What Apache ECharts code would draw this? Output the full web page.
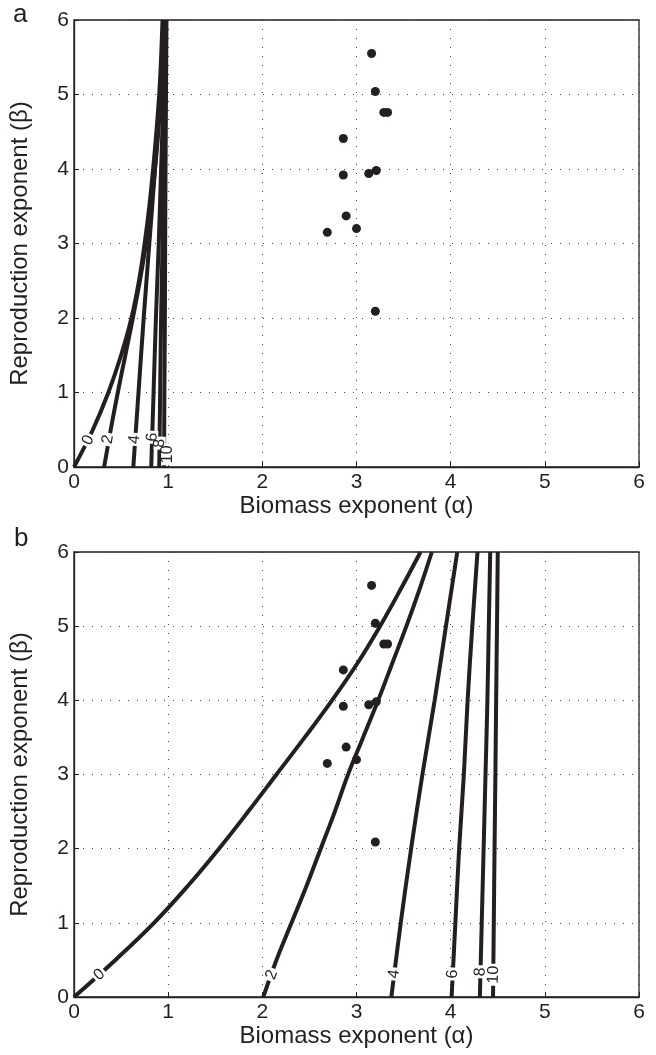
<!DOCTYPE html>
<html>
<head>
<meta charset="utf-8">
<script src="https://cdn.jsdelivr.net/npm/echarts@6/dist/echarts.min.js"></script>
<style>
  html, body { margin: 0; padding: 0; background: #fff; }
  #chart { width: 656px; height: 1055px; }
</style>
</head>
<body>
<div id="chart"></div>
<script>
// beta sampling of the contour lines
const betaFine = [0, 0.5, 1, 1.5, 2, 2.5, 3, 3.5, 4, 4.5, 5, 5.5, 6];
const betaCoarse = [0, 1, 2, 3, 4, 5, 6];

// panel a contours (alpha at each beta)
const a0 = [0, 0.2, 0.365, 0.5, 0.61, 0.69, 0.75, 0.8, 0.84, 0.875, 0.905, 0.925, 0.94];
const a2 = [0.32, 0.39, 0.465, 0.545, 0.625, 0.7, 0.765, 0.82, 0.86, 0.895, 0.92, 0.94, 0.955];
const a4 = [0.63, 0.685, 0.74, 0.8, 0.86, 0.915, 0.96];
const a6 = [0.82, 0.845, 0.87, 0.9, 0.925, 0.95, 0.968];
const a8 = [0.905, 0.915, 0.925, 0.94, 0.95, 0.962, 0.974];
const a10 = [0.956, 0.96, 0.965, 0.968, 0.972, 0.977, 0.982];

// panel b contours
const b0 = [0, 0.44, 0.85, 1.21, 1.54, 1.85, 2.15, 2.45, 2.74, 3.01, 3.25, 3.47, 3.68];
const b2 = [2.01, 2.15, 2.31, 2.47, 2.62, 2.77, 2.91, 3.07, 3.23, 3.38, 3.53, 3.67, 3.8];
const b4 = [3.37, 3.47, 3.58, 3.7, 3.83, 3.95, 4.07];
const b6 = [4.01, 4.05, 4.09, 4.14, 4.18, 4.23, 4.285];
const b8 = [4.31, 4.33, 4.35, 4.37, 4.39, 4.405, 4.42];
const b10 = [4.45, 4.458, 4.466, 4.475, 4.483, 4.492, 4.5];

// observed species
const dotAlpha = [3.16, 3.2, 3.29, 3.33, 2.86, 2.86, 3.13, 3.21, 2.89, 2.69, 3.0, 3.2];
const dotBeta = [5.55, 5.04, 4.76, 4.76, 4.41, 3.92, 3.94, 3.98, 3.37, 3.15, 3.2, 2.09];

// contour labels
const contourLevels = ['0', '2', '4', '6', '8', '10'];
const labAAlpha = [0.15, 0.36, 0.645, 0.83, 0.91, 0.99];
const labABeta = [0.36, 0.37, 0.37, 0.4, 0.32, 0.17];
const labBAlpha = [0.27, 2.1, 3.4, 4.02, 4.315, 4.455];
const labBBeta = [0.3, 0.3, 0.31, 0.31, 0.34, 0.3];
const labARot = [62, 80, 86, 88, 89, 90];
const labBRot = [42, 69, 83, 87, 88, 89];

const ink = '#231f20';
const font = 'Liberation Sans, Arial, Helvetica, sans-serif';

const pairs = (alphas, betas) => alphas.map((a, i) => [a, betas[i]]);

function axis(idx, name, isY) {
  return {
    gridIndex: idx,
    type: 'value',
    min: 0,
    max: 6,
    interval: 1,
    name,
    nameLocation: 'middle',
    nameGap: isY ? 42 : 16,
    nameTextStyle: { fontFamily: font, fontSize: 24, color: ink },
    axisLine: { show: true, onZero: false, lineStyle: { color: ink, width: 1.3 } },
    axisTick: { show: true, inside: true, length: 5, lineStyle: { color: ink } },
    axisLabel: { fontFamily: font, fontSize: 21, color: ink, margin: 5 },
    splitLine: { show: true, lineStyle: { color: '#444', width: 1, type: [1, 8] } }
  };
}

function contour(idx, alphas, betas) {
  return {
    type: 'line',
    xAxisIndex: idx,
    yAxisIndex: idx,
    data: pairs(alphas, betas),
    showSymbol: false,
    smooth: 0.4,
    lineStyle: { color: ink, width: 4 },
    silent: true,
    z: 3
  };
}

function labels(idx, alphas, betas, rots) {
  return {
    type: 'scatter',
    xAxisIndex: idx,
    yAxisIndex: idx,
    symbol: 'rect',
    z: 5,
    itemStyle: { color: '#fff', opacity: 1 },
    data: contourLevels.map((t, i) => ({
      value: [alphas[i], betas[i]],
      name: t,
      symbolSize: [t.length * 9 + 4, 12],
      symbolRotate: rots[i],
      label: { rotate: rots[i] }
    })),
    label: {
      show: true,
      position: 'inside',
      formatter: '{b}',
      fontFamily: font,
      fontSize: 16,
      color: ink
    }
  };
}

function dots(idx) {
  return {
    type: 'scatter',
    xAxisIndex: idx,
    yAxisIndex: idx,
    data: pairs(dotAlpha, dotBeta),
    symbol: 'circle',
    symbolSize: 9,
    itemStyle: { color: ink, opacity: 1 },
    z: 4
  };
}

const titleStyle = { fontFamily: font, fontSize: 26, fontWeight: 'normal', color: ink };

const chart = echarts.init(document.getElementById('chart'));
chart.setOption({
  backgroundColor: '#fff',
  animation: false,
  title: [
    { text: 'a', left: 8, top: -3, textStyle: titleStyle },
    { text: 'b', left: 9, top: 521, textStyle: titleStyle }
  ],
  grid: [
    { left: 72, top: 20, width: 567, height: 447, show: true, borderColor: ink, borderWidth: 1.3 },
    { left: 72, top: 552, width: 567, height: 445, show: true, borderColor: ink, borderWidth: 1.3 }
  ],
  xAxis: [axis(0, 'Biomass exponent (α)', false), axis(1, 'Biomass exponent (α)', false)],
  yAxis: [axis(0, 'Reproduction exponent (β)', true), axis(1, 'Reproduction exponent (β)', true)],
  series: [
    contour(0, a0, betaFine),
    contour(0, a2, betaFine),
    contour(0, a4, betaCoarse),
    contour(0, a6, betaCoarse),
    contour(0, a8, betaCoarse),
    contour(0, a10, betaCoarse),
    labels(0, labAAlpha, labABeta, labARot),
    dots(0),
    contour(1, b0, betaFine),
    contour(1, b2, betaFine),
    contour(1, b4, betaCoarse),
    contour(1, b6, betaCoarse),
    contour(1, b8, betaCoarse),
    contour(1, b10, betaCoarse),
    labels(1, labBAlpha, labBBeta, labBRot),
    dots(1)
  ]
});
</script>
</body>
</html>
